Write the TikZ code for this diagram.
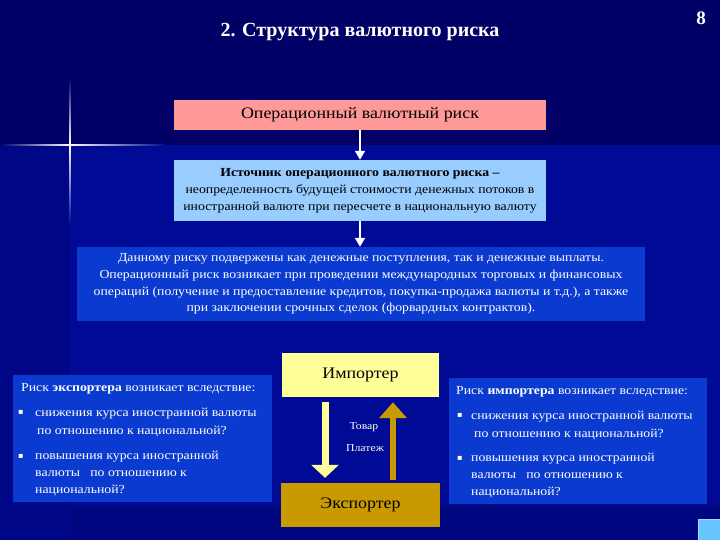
\documentclass[tikz,border=0pt]{standalone}
\usepackage{fontspec}
\setmainfont{Liberation Serif}
\newfontfamily\bodyfont{Liberation Serif}[FakeStretch=1.12]
\newfontfamily\symfont{DejaVu Sans}
\usetikzlibrary{arrows.meta,calc}
\definecolor{bgdark}{HTML}{000066}
\definecolor{bglight}{HTML}{000A94}
\definecolor{pinkbox}{HTML}{FF9999}
\definecolor{skybox}{HTML}{99CCFF}
\definecolor{bluebox}{HTML}{0A3ACF}
\definecolor{yelbox}{HTML}{FFFF99}
\definecolor{goldbox}{HTML}{C99A00}
\definecolor{btn}{HTML}{66C4FF}
\tikzset{
  box/.style={draw=none,inner sep=0pt,align=center},
  wline/.style={white,line width=1.5pt,-{Triangle[width=10pt,length=9pt]}},
  ln/.style={anchor=west,inner sep=0pt,text=white,font=\bodyfont\fontsize{12.3}{15}\selectfont},
  bul/.style={anchor=west,inner sep=0pt,text=white,font=\symfont\fontsize{8}{10}\selectfont},
}
\begin{document}
\begin{tikzpicture}[x=1pt,y=-1pt]
\useasboundingbox (0,0) rectangle (720,540);
% background
\fill[bgdark] (0,0) rectangle (720,540);
\fill[bglight!70!bgdark] (0,145) rectangle (70,540);
\fill[bglight] (70,145) rectangle (720,505);
\fill[bglight!55!bgdark] (70,505) rectangle (720,540);
% star flare
\shade[left color=bgdark,right color=white] (0,144.2) rectangle (70,145.8);
\shade[left color=white,right color=bglight] (70,144.2) rectangle (165,145.8);
\shade[top color=bgdark,bottom color=white] (69.2,78) rectangle (70.8,145);
\shade[top color=white,bottom color=bglight] (69.2,145) rectangle (70.8,225);
\fill[white] (70,145) circle (1.8);
% title
\node[text=white,font=\bfseries\fontsize{20}{24}\selectfont] (title) at (360,32) {2. Структура валютного риска};
\node[text=white,font=\bfseries\fontsize{19}{24}\selectfont] (num) at (701,18) {8};
% top boxes
\node[box,fill=pinkbox,minimum width=372,minimum height=30,font=\bodyfont\fontsize{16}{19}\selectfont] (op) at (360,115) {Операционный валютный риск};
\node[box,fill=skybox,minimum width=372,minimum height=61,font=\bodyfont\fontsize{12.3}{17}\selectfont] (src) at (360,190.5)
  {\textbf{Источник операционного валютного риска –}\\неопределенность будущей стоимости денежных потоков в\\иностранной валюте при пересчете в национальную валюту};
\node[box,fill=bluebox,text=white,minimum width=568,minimum height=74,font=\bodyfont\fontsize{12.3}{16.7}\selectfont] (desc) at (361,284)
  {Данному риску подвержены как денежные поступления, так и денежные выплаты.\\Операционный риск возникает при проведении международных торговых и финансовых\\операций (получение и предоставление кредитов, покупка-продажа валюты и т.д.), а также\\при заключении срочных сделок (форвардных контрактов).};
\draw[wline] (op.south) -- (src.north);
\draw[wline] (src.south) -- (src.south |- desc.north);
% importer / exporter
\node[box,fill=yelbox,minimum width=157,minimum height=44,font=\bodyfont\fontsize{16}{19}\selectfont] (imp) at (360.5,375) {Импортер};
\node[box,fill=goldbox,minimum width=159,minimum height=44,font=\bodyfont\fontsize{16}{19}\selectfont] (exp) at (360.5,505) {Экспортер};
\draw[yelbox,line width=7pt,-{Triangle[width=27pt,length=13pt]}] ($(imp.south)+(-35.5,5)$) -- ($(exp.north)+(-35.5,-5)$);
\draw[goldbox,line width=6pt,-{Triangle[width=27pt,length=16pt]}] ($(exp.north)+(32.5,-3)$) -- ($(imp.south)+(32.5,5)$);
\node[text=white,inner sep=0pt,font=\bodyfont\fontsize{10.5}{12}\selectfont] (tovar) at (364,427) {Товар};
\node[text=white,inner sep=0pt,font=\bodyfont\fontsize{10.5}{12}\selectfont] (plat) at (365,448) {Платеж};
% side boxes
\node[box,fill=bluebox,minimum width=259,minimum height=127] (left) at (142.5,438.5) {};
\node[box,fill=bluebox,minimum width=258,minimum height=126] (right) at (578,441) {};
% left texts
\node[ln] (l1) at (21,389) {Риск \textbf{экспортера} возникает вследствие:};
\node[bul] (lb1) at (18,412) {▪};
\node[ln] (l2) at (35,414) {снижения курса иностранной валюты};
\node[ln] (l3) at (37,431) {по отношению к национальной?};
\node[bul] (lb2) at (18,456) {▪};
\node[ln] (l4) at (35,457) {повышения курса иностранной};
\node[ln] (l5) at (35,474) {валюты\ \ \ по отношению к};
\node[ln] (l6) at (35,490) {национальной?};
% right texts
\node[ln] (r1) at (456,392) {Риск \textbf{импортера} возникает вследствие:};
\node[bul] (rb1) at (457,415) {▪};
\node[ln] (r2) at (471,417) {снижения курса иностранной валюты};
\node[ln] (r3) at (474,434) {по отношению к национальной?};
\node[bul] (rb2) at (457,458) {▪};
\node[ln] (r4) at (471,459) {повышения курса иностранной};
\node[ln] (r5) at (471,476) {валюты\ \ \ по отношению к};
\node[ln] (r6) at (471,492) {национальной?};
% button
\node[draw=btn!60!white,line width=1pt,fill=btn,minimum width=22,minimum height=21,inner sep=0pt] (button) at (709,529.5) {};
\end{tikzpicture}
\end{document}
